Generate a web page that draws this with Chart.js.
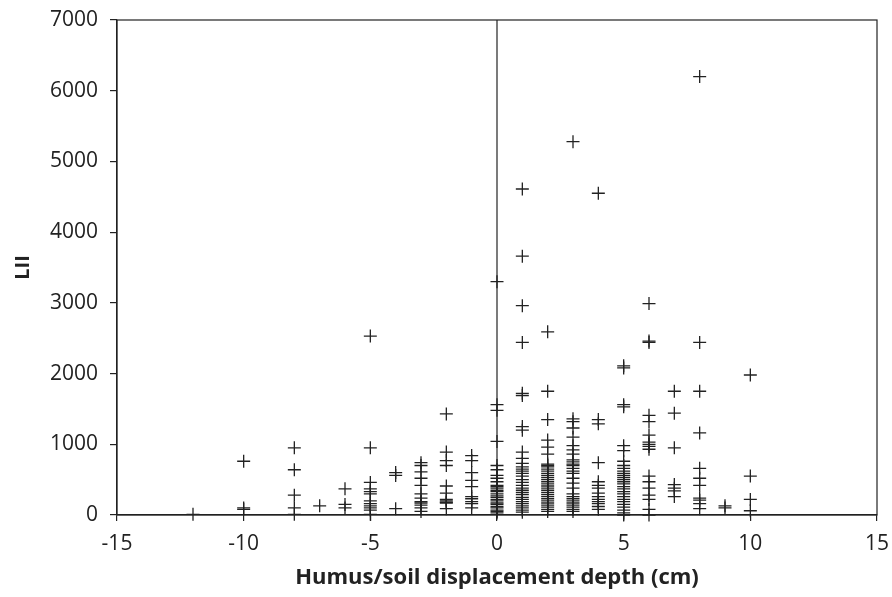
<!DOCTYPE html>
<html>
<head>
<meta charset="utf-8">
<script src="https://cdn.jsdelivr.net/npm/chart.js@4"></script>
<style>
  html, body { margin: 0; padding: 0; background: #fff; }
  #wrap { width: 892px; height: 597px; }
</style>
</head>
<body>
<div id="wrap"><canvas id="chartJSContainer"></canvas></div>
<script>
// displacement depth (cm) for each column of points
var depths = [-12, -10, -8, -7, -6, -5, -4, -3, -2, -1, 0, 1, 2, 3, 4, 5, 6, 7, 8, 9, 10];

// LII values
var liiValues = [
  [10],
  [760, 100, 80],
  [950, 640, 280, 100, 10],
  [130],
  [370, 150, 100],
  [2530, 950, 460, 370, 330, 300, 200, 160, 130, 100, 70, 10],
  [600, 560, 90],
  [740, 700, 610, 520, 420, 300, 240, 190, 170, 140, 100, 50],
  [1430, 890, 770, 700, 410, 310, 220, 200, 180, 170, 90],
  [840, 770, 600, 490, 400, 260, 230, 190, 160, 100],
  [3300, 1560, 1480, 1040, 700, 640, 560, 520, 470, 420, 400, 380, 350, 330, 300, 270, 250, 220, 200, 170, 150, 120, 100, 70, 50, 30],
  [4610, 3660, 2960, 2440, 1720, 1690, 1250, 1200, 890, 800, 730, 680, 650, 620, 590, 550, 500, 460, 420, 380, 350, 320, 290, 250, 220, 190, 160, 130, 100, 70, 40],
  [2590, 1750, 1350, 1060, 960, 860, 720, 700, 680, 650, 620, 590, 560, 530, 500, 470, 440, 410, 380, 350, 320, 290, 260, 230, 200, 170, 140, 110, 80, 50],
  [5280, 1360, 1320, 1230, 1100, 980, 920, 860, 780, 750, 720, 700, 660, 620, 590, 520, 450, 380, 300, 260, 230, 200, 170, 140, 110, 80, 50],
  [4550, 1350, 1290, 740, 470, 420, 380, 310, 260, 220, 190, 160, 120, 80],
  [2110, 2080, 1560, 1530, 980, 910, 760, 700, 660, 620, 590, 560, 530, 500, 470, 440, 400, 370, 330, 300, 260, 220, 190, 150, 110, 70, 30, 0],
  [2990, 2460, 2440, 1410, 1320, 1130, 1030, 1000, 970, 930, 550, 470, 380, 280, 220, 80, 0],
  [1750, 1440, 950, 430, 380, 340, 260],
  [6200, 2440, 1750, 1160, 660, 520, 420, 240, 210, 160, 90],
  [130, 100],
  [1980, 550, 220, 60]
];

var xTickStep = 5;
var yTickStep = 1000;

var points = [];
depths.forEach(function (d, i) {
  liiValues[i].forEach(function (v) {
    points.push({ x: d, y: v });
  });
});

var ink = "#222";
var fontFamily = "'Open Sans', 'Noto Sans', sans-serif";

// frame round the plot area and the vertical line at x = 0
var framePlugin = {
  id: "frame",
  beforeDatasetsDraw: function (chart) {
    var c = chart.ctx, a = chart.chartArea;
    var x0 = chart.scales.x.getPixelForValue(0);
    c.save();
    c.strokeStyle = ink;
    c.lineWidth = 1.2;
    c.strokeRect(a.left, a.top, a.right - a.left, a.bottom - a.top);
    c.beginPath();
    c.moveTo(x0, a.top);
    c.lineTo(x0, a.bottom);
    c.stroke();
    c.restore();
  }
};

function plain(v) { return String(v); }

var options = {
  type: "scatter",
  data: {
    datasets: [
      {
        label: "LII",
        data: points,
        pointStyle: "cross",
        pointRadius: 6.5,
        pointHoverRadius: 6.5,
        borderColor: ink,
        backgroundColor: ink,
        borderWidth: 1.3,
        clip: false
      }
    ]
  },
  options: {
    responsive: true,
    maintainAspectRatio: false,
    animation: false,
    layout: { padding: { top: 20, right: 15, left: 0, bottom: 0 } },
    plugins: {
      legend: { display: false },
      tooltip: { enabled: false }
    },
    scales: {
      x: {
        type: "linear",
        min: -15,
        max: 15,
        afterFit: function (s) {
          s.height = 82;
          s.paddingLeft = 0;
          s.paddingRight = 0;
        },
        ticks: {
          stepSize: xTickStep,
          color: ink,
          padding: 10,
          callback: plain,
          font: { family: fontFamily, size: 21 }
        },
        grid: { drawOnChartArea: false, tickLength: 6, color: ink, lineWidth: 1.2 },
        border: { color: ink, width: 1.2 },
        title: {
          display: true,
          text: "Humus/soil displacement depth (cm)",
          color: ink,
          padding: { top: 0, bottom: 6 },
          font: { family: fontFamily, size: 22, weight: "bold" }
        }
      },
      y: {
        min: 0,
        max: 7000,
        afterFit: function (s) {
          s.width = 117;
          s.paddingTop = 0;
          s.paddingBottom = 0;
        },
        ticks: {
          stepSize: yTickStep,
          color: ink,
          padding: 12,
          callback: plain,
          font: { family: fontFamily, size: 21 }
        },
        grid: { drawOnChartArea: false, tickLength: 7, color: ink, lineWidth: 1.2 },
        border: { color: ink, width: 1.2 },
        title: {
          display: true,
          text: "LII",
          color: ink,
          padding: { top: 11, bottom: 0 },
          font: { family: fontFamily, size: 20, weight: "bold" }
        }
      }
    }
  },
  plugins: [framePlugin]
};

var ctx = document.getElementById("chartJSContainer").getContext("2d");
new Chart(ctx, options);
</script>
</body>
</html>
